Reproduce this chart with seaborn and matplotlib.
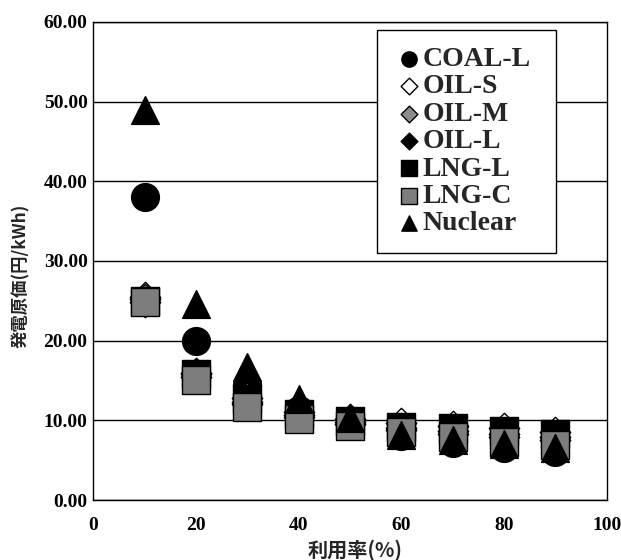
import numpy as np
import pandas as pd
import seaborn as sns
import matplotlib.pyplot as plt

# utilisation rate (%) and generation cost (yen/kWh)
rate = [10, 20, 30, 40, 50, 60, 70, 80, 90]
coal_l = [38.0, 20.0, 14.5, 11.3, 9.4, 8.0, 7.1, 6.5, 6.0]
oil_s = [25.5, 16.0, 12.8, 11.0, 10.2, 9.7, 9.3, 9.0, 8.6]
oil_m = [25.2, 15.8, 12.3, 10.7, 9.8, 9.1, 8.7, 8.3, 7.9]
oil_l = [24.9, 15.5, 12.0, 10.4, 9.5, 8.8, 8.3, 7.9, 7.5]
lng_l = [25.0, 15.8, 12.7, 10.8, 9.9, 9.2, 9.0, 8.7, 8.3]
lng_c = [24.8, 15.1, 11.7, 10.2, 9.3, 8.5, 7.9, 7.3, 6.9]
nuclear = [49.0, 24.6, 16.7, 12.7, 10.3, 8.2, 7.6, 7.0, 6.5]

names = ["COAL-L", "OIL-S", "OIL-M", "OIL-L", "LNG-L", "LNG-C", "Nuclear"]
values = [coal_l, oil_s, oil_m, oil_l, lng_l, lng_c, nuclear]
markers = ["o", "D", "D", "D", "s", "s", "^"]
faces = ["black", "white", "#8c8c8c", "black", "black", "#7d7d7d", "black"]
sizes = [400, 240, 240, 240, 400, 400, 400]

sns.set_theme(style="white")
plt.rcParams['font.family'] = ['Liberation Serif', 'Noto Sans CJK JP']
plt.rcParams['font.weight'] = 'bold'

fig = plt.figure(figsize=(6.21, 5.60), dpi=100)
ax = fig.add_axes([0.150, 0.107, 0.827, 0.854])

for name, vals, m, fc, s in zip(names, values, markers, faces, sizes):
    df = pd.DataFrame({"rate": rate, "cost": vals})
    sns.scatterplot(data=df, x="rate", y="cost", marker=m, s=s, color=fc,
                    edgecolor="black", linewidth=1.0, label=name, ax=ax,
                    zorder=3)

ax.set_xlim(0, 100)
ax.set_ylim(0, 60)
ax.set_xticks(np.arange(0, 101, 20))
ax.set_yticks(np.arange(0, 61, 10))
ax.set_yticklabels([f"{v:.2f}" for v in np.arange(0, 61, 10)])
ax.yaxis.grid(True, color="black", linewidth=1.0)
ax.set_axisbelow(True)
for sp in ax.spines.values():
    sp.set_color("black")
    sp.set_linewidth(1.0)
ax.tick_params(axis="both", direction="in", length=4, color="black",
               labelsize=14, labelcolor="black")
ax.tick_params(axis="x", pad=12)
ax.tick_params(axis="y", pad=4)

ax.set_xlabel("利用率(%)", family="Noto Sans CJK JP", fontweight="bold",
              fontsize=14.5)
ax.set_ylabel("発電原価(円/kWh)", family="Noto Sans CJK JP", fontweight="bold",
              fontsize=12.5)
ax.xaxis.set_label_coords(0.51, -0.083)
ax.yaxis.set_label_coords(-0.122, 0.469)

leg = ax.legend(loc="upper left", bbox_to_anchor=(0.553, 0.5, 0.348, 0.483),
                mode="expand", markerscale=0.55,
                prop={"family": "Liberation Serif", "weight": "bold", "size": 20},
                frameon=True, fancybox=False, edgecolor="black", framealpha=1,
                handletextpad=-0.05, labelspacing=0.07, borderpad=0.6,
                handlelength=1.1, borderaxespad=0)
leg.get_frame().set_linewidth(1.0)

fig.savefig("out.png", dpi=100)
